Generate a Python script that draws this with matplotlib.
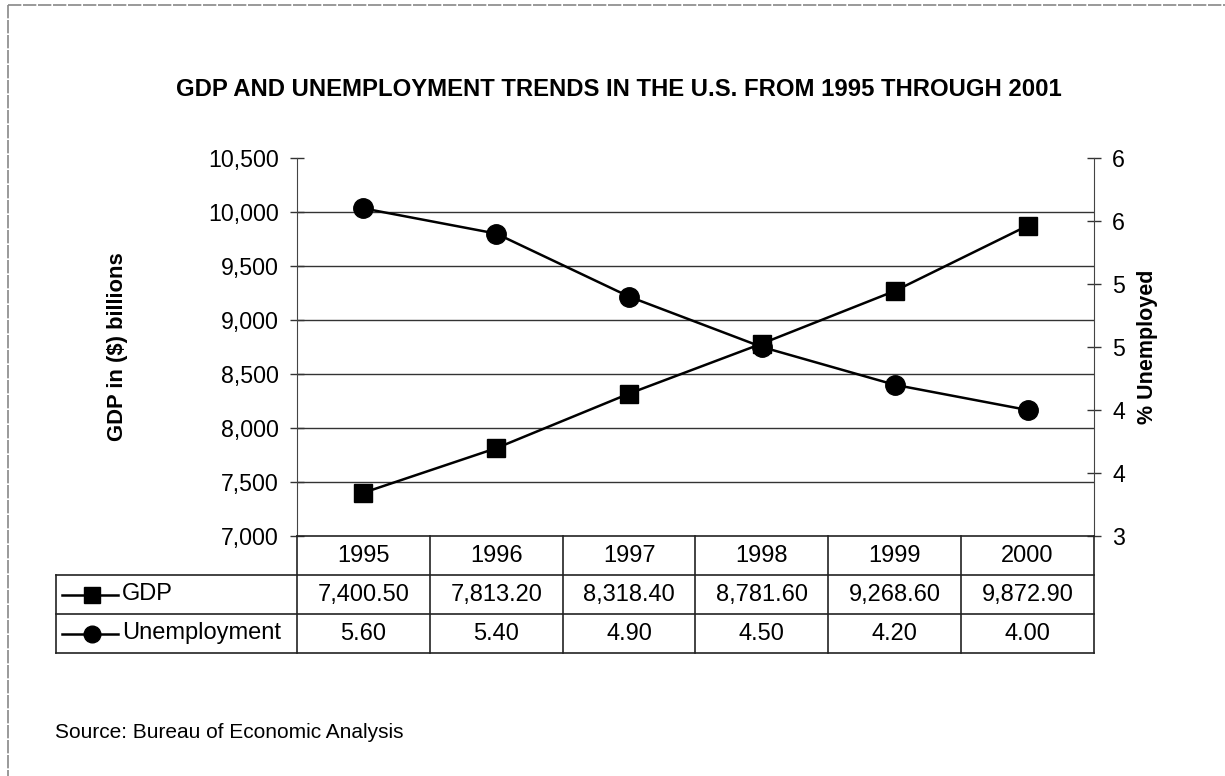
import matplotlib
matplotlib.use("Agg")
import matplotlib.pyplot as plt
import matplotlib.transforms as mtransforms
from matplotlib.lines import Line2D
import numpy as np

plt.rcParams['font.family'] = ['Liberation Sans', 'DejaVu Sans']

years = ['1995', '1996', '1997', '1998', '1999', '2000']
gdp = [7400.50, 7813.20, 8318.40, 8781.60, 9268.60, 9872.90]
unemployment = [5.60, 5.40, 4.90, 4.50, 4.20, 4.00]
series_names = ['GDP', 'Unemployment']
gdp_ticks = [7000, 7500, 8000, 8500, 9000, 9500, 10000, 10500]
unemp_ticks = [3.0, 3.5, 4.0, 4.5, 5.0, 5.5, 6.0]

W, H = 1225, 776
fig = plt.figure(figsize=(W / 100, H / 100), dpi=100)
fig.patch.set_facecolor('white')


def fy(p):
    return 1 - p / H


def fx(p):
    return p / W


# plot area in pixels
L, R, T, B = 297, 1094, 158, 536
ax = fig.add_axes([L / W, 1 - B / H, (R - L) / W, (B - T) / H])
ax2 = ax.twinx()

x = np.arange(len(years))
ax.set_xlim(-0.5, len(years) - 0.5)
ax.set_ylim(7000, 10500)
ax2.set_ylim(3, 6)

ax.plot(x, gdp, color='black', lw=1.8, marker='s', ms=13, zorder=5, clip_on=False)
ax2.plot(x, unemployment, color='black', lw=1.8, marker='o', ms=14, zorder=5, clip_on=False)

# gridlines at inner left ticks
for v in gdp_ticks[1:-1]:
    ax.axhline(v, color='#333333', lw=1.0, zorder=1)

ax.set_xticks([])
ax.set_yticks(gdp_ticks)
ax.set_yticklabels([f'{v:,}' for v in gdp_ticks])
ax2.set_yticks(unemp_ticks)
# Excel-style half-up rounding to whole numbers
ax2.set_yticklabels([str(int(np.floor(v + 0.5))) for v in unemp_ticks])

for a in (ax, ax2):
    a.tick_params(axis='y', direction='inout', length=10, width=1, color='#333333',
                  labelsize=16.7, pad=8)
    for s in ('top', 'bottom'):
        a.spines[s].set_visible(False)
ax.spines['right'].set_visible(False)
ax.spines['left'].set_color('#444444')
ax2.spines['left'].set_visible(False)
ax2.spines['right'].set_color('#444444')

# axis titles
mid_y = fy((T + B) / 2)
fig.text(fx(118), mid_y, 'GDP in ($) billions', rotation=90, ha='center', va='center',
         fontsize=15.8, fontweight='bold')
fig.text(fx(1147), mid_y, '% Unemployed', rotation=90, ha='center', va='center',
         fontsize=15.5, fontweight='bold')

fig.text(619 / W, fy(90), 'GDP AND UNEMPLOYMENT TRENDS IN THE U.S. FROM 1995 THROUGH 2001',
         ha='center', va='center', fontsize=17.2, fontweight='bold')
fig.text(55 / W, fy(732), 'Source: Bureau of Economic Analysis', ha='left', va='center', fontsize=15)

# ---- data table below the plot ----
row_h = 39
rows_y = [B, B + row_h, B + 2 * row_h, B + 3 * row_h]
tab_left = 56
blend = mtransforms.blended_transform_factory(ax.transData, fig.transFigure)

lc = '#222222'
# horizontal lines
fig.add_artist(Line2D([fx(L), fx(R)], [fy(rows_y[0])] * 2, color=lc, lw=1.2))
for yy in rows_y[1:]:
    fig.add_artist(Line2D([fx(tab_left), fx(R)], [fy(yy)] * 2, color=lc, lw=1.2))
# vertical lines
fig.add_artist(Line2D([fx(tab_left)] * 2, [fy(rows_y[1]), fy(rows_y[3])], color=lc, lw=1.2))
for i in range(len(years) + 1):
    xb = i - 0.5
    fig.add_artist(Line2D([xb, xb], [fy(rows_y[0]), fy(rows_y[3])], color=lc, lw=1.2,
                          transform=blend))

cell_fs = 17
for i, yr in enumerate(years):
    fig.text(i, fy(rows_y[0] + row_h / 2), yr, transform=blend, ha='center', va='center', fontsize=cell_fs)
    fig.text(i, fy(rows_y[1] + row_h / 2), f'{gdp[i]:,.2f}', transform=blend, ha='center', va='center',
             fontsize=cell_fs)
    fig.text(i, fy(rows_y[2] + row_h / 2), f'{unemployment[i]:.2f}', transform=blend, ha='center',
             va='center', fontsize=cell_fs)

markers = ['s', 'o']
msz = [11, 12]
for k, name in enumerate(series_names):
    yc = fy(rows_y[k + 1] + row_h / 2)
    fig.add_artist(Line2D([fx(62), fx(118)], [yc, yc], color='black', lw=1.8))
    fig.add_artist(Line2D([fx(92)], [yc], color='black', marker=markers[k], ms=msz[k], lw=0))
    fig.text(fx(122), yc, name, ha='left', va='center', fontsize=cell_fs)

# outer frame (top and left edges)
fig.add_artist(Line2D([fx(8), fx(W)], [fy(5), fy(5)], color='#888888', lw=1.2, ls=(0, (8, 1))))
fig.add_artist(Line2D([fx(8), fx(8)], [fy(5), fy(H)], color='#888888', lw=1.2, ls=(0, (8, 1))))

fig.savefig('out.png', dpi=100, facecolor='white')
